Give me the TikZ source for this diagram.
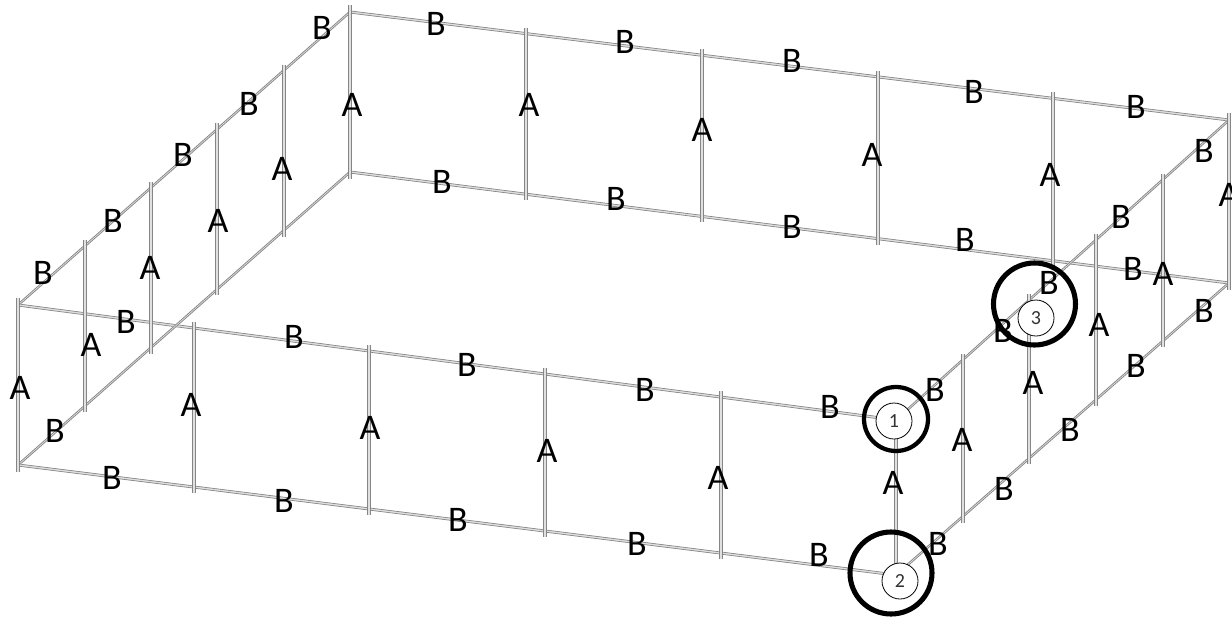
\documentclass[tikz,border=0pt]{standalone}
\usepackage{fontspec}
\setmainfont{Carlito}
\usetikzlibrary{calc}
\tikzset{
  tube/.style={draw=black!12,line width=2pt,line cap=butt},
  wire/.style={draw=black!48,line width=0.5pt,line cap=butt},
  lbl/.style={font=\fontsize{27}{27}\selectfont,inner sep=0pt,text=black},
  ringa/.style={circle,draw=black,line width=3.2pt,minimum size=48pt,inner sep=0pt},
  ringb/.style={circle,draw=black,line width=3.8pt,minimum size=61.5pt,inner sep=0pt},
  numc/.style={circle,draw=black,fill=white,line width=0.6pt,minimum size=27pt,inner sep=0pt,font=\fontsize{15}{15}\selectfont,text=black!80}
}
\begin{document}
\begin{tikzpicture}[x=0.75pt,y=-0.75pt]
\useasboundingbox[fill=white] (0,0) rectangle (1232,618);
% corners
\coordinate (FLT) at (18,305);
\coordinate (FLB) at (18,465);
\coordinate (FRT) at (896,420);
\coordinate (FRB) at (896,575);
\coordinate (BLT) at (350,12);
\coordinate (BLB) at (350,172);
\coordinate (BRT) at (1229,120);
\coordinate (BRB) at (1229,283);
% rails
\foreach \a/\b in {FLT/FRT,FLB/FRB,BLT/BRT,BLB/BRB,FLT/BLT,FLB/BLB,FRT/BRT,FRB/BRB}{
  \draw[tube] (\a) -- (\b);
  \foreach \s in {-1.1,1.1}{
    \draw[wire] ($(\a)+(0,\s)$) -- ($(\b)+(0,\s)$);
  }
}
% corner posts
\foreach \a/\b in {FLT/FLB,FRT/FRB,BLT/BLB,BRT/BRB}{
  \draw[tube] ($(\a)+(0,-7)$) -- ($(\b)+(0,7)$);
  \foreach \s in {-1.5,1.5}{
    \draw[wire] ($(\a)+(\s,-7)$) -- ($(\b)+(\s,7)$);
  }
}
% intermediate posts
\foreach \k in {1,2,3,4}{
  \foreach \ta/\tb/\ba/\bb in {FLT/FRT/FLB/FRB,BLT/BRT/BLB/BRB,FLT/BLT/FLB/BLB,FRT/BRT/FRB/BRB}{
    \draw[tube] ($(\ta)!\k/5!(\tb)+(0,-6)$) -- ($(\ba)!\k/5!(\bb)+(0,6)$);
    \foreach \s in {-1.5,1.5}{
      \draw[wire] ($(\ta)!\k/5!(\tb)+(\s,-6)$) -- ($(\ba)!\k/5!(\bb)+(\s,6)$);
    }
  }
}
% rings
\node[ringa] (r1) at (896,419) {};
\node[ringb] (r2) at (891,573) {};
\node[ringb] (r3) at (1034.5,304) {};
\node[numc] (n1) at (894,421) {1};
\node[numc] (n2) at (900,581) {2};
\node[numc] (n3) at (1036,318) {3};
% B labels
\foreach \i/\x/\y in {1/322/28,2/249/104,3/183/155,4/113/221,5/43/273,
 6/436/24,7/625/42,8/792/61,9/974/92,10/1136/107,
 11/442/182,12/616/199,13/792/227,14/965/240,15/1133/269,
 16/126/322,17/55/431,
 18/294/337,19/467/365,20/645/390,21/830/407,
 22/112/478,23/284/501,24/458/520,25/637/544,26/819/555,
 27/935/390,28/1003/331,29/1049/283,30/1121/217,31/1204/151,
 32/938/544,33/1004/489,34/1070/430,35/1136/366,36/1204/311}{
  \node[lbl] (b\i) at (\x,\y) {B};
}
% A labels
\foreach \i/\x/\y in {1/20/388,2/91/345,3/150/268,4/218/221,5/282/169,
 6/352/105,7/529/105,8/702/130,9/872/155,10/1050/175,
 11/1229/195,12/1163/274,13/1099/325,14/1033/383,15/962/440,
 16/893/483,17/718/478,18/547/451,19/370/428,20/191/405}{
  \node[lbl] (a\i) at (\x,\y) {A};
}
\end{tikzpicture}
\end{document}
